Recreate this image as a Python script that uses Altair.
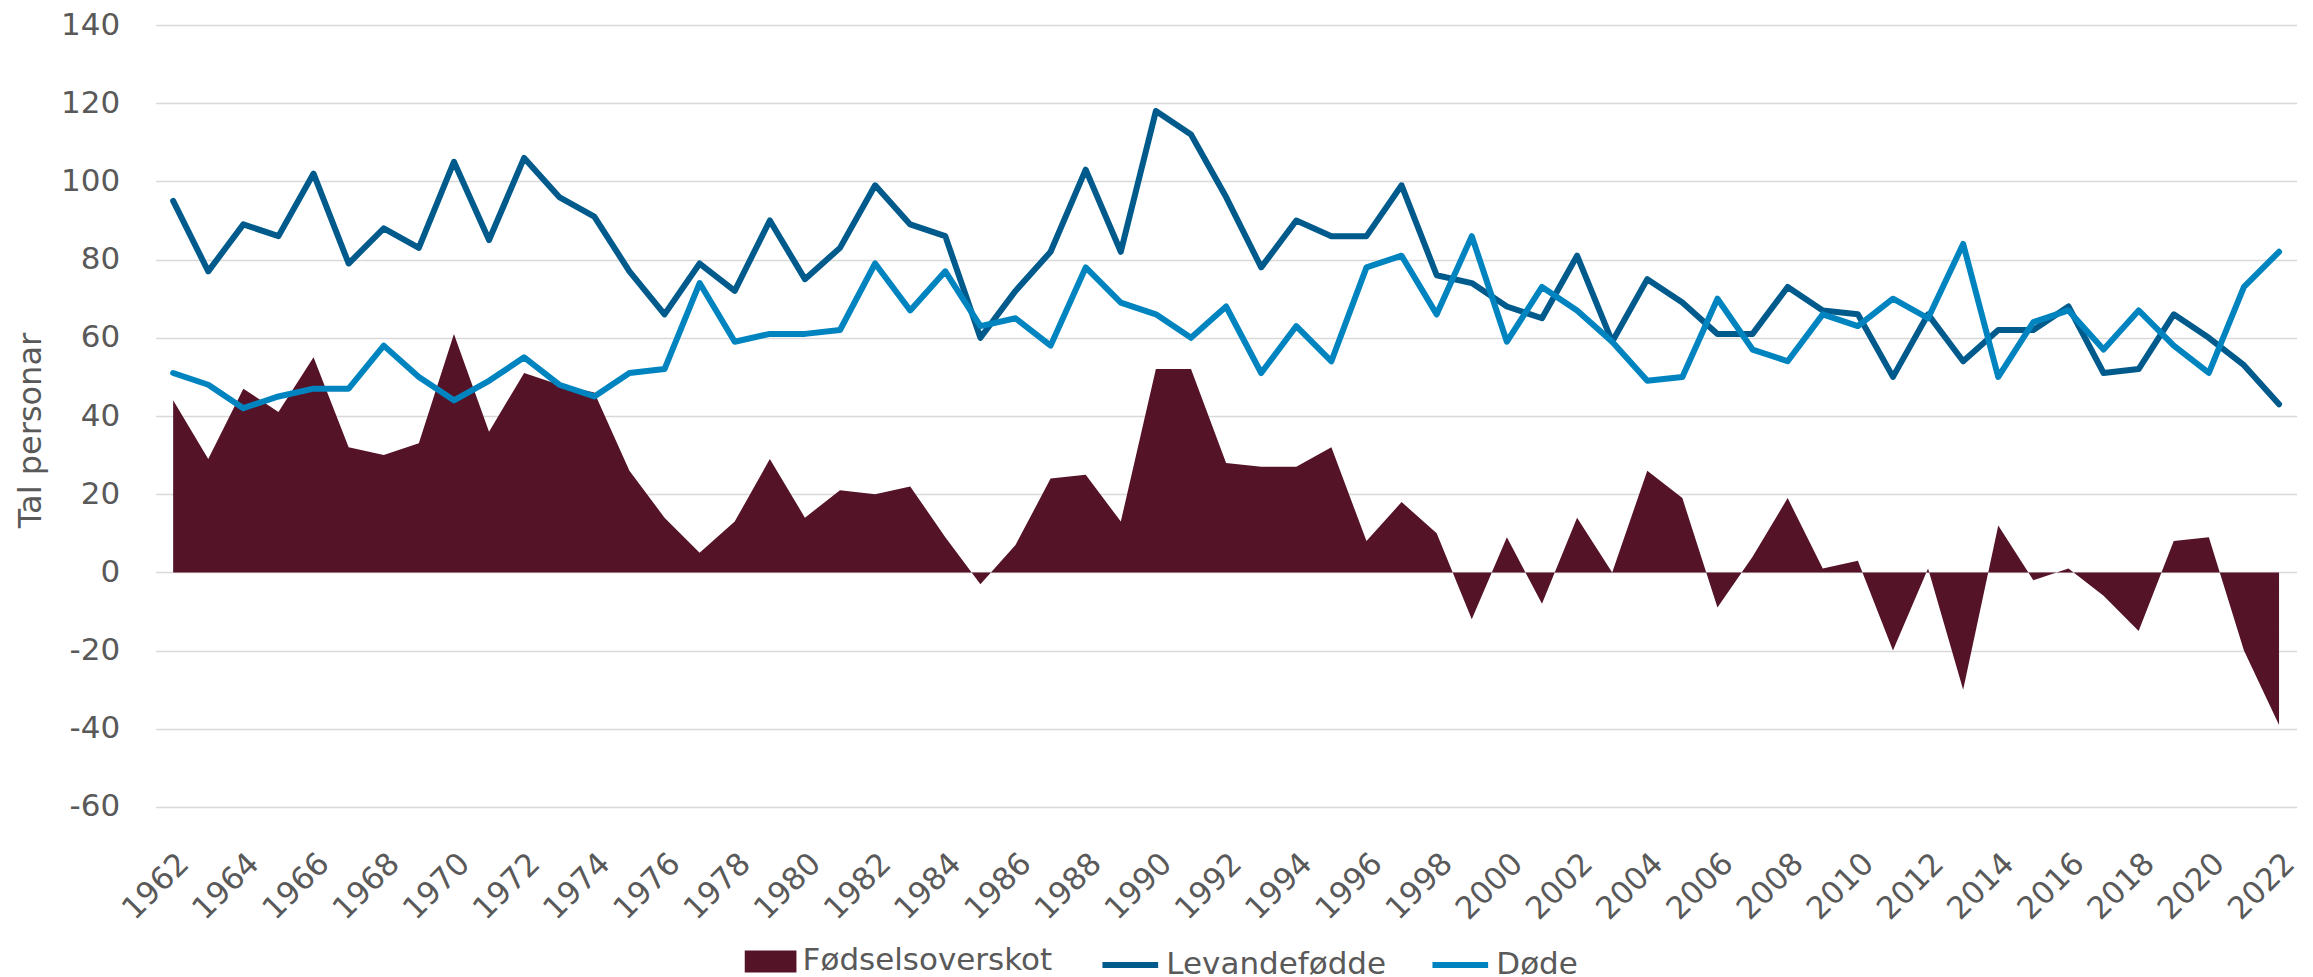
import altair as alt
import pandas as pd

years = list(range(1962, 2023))

levandefodde = [95, 77, 89, 86, 102, 79, 88, 83, 105, 85,
                106, 96, 91, 77, 66, 79, 72, 90, 75, 83,
                99, 89, 86, 60, 72, 82, 103, 82, 118, 112,
                96, 78, 90, 86, 86, 99, 76, 74, 68, 65,
                81, 59, 75, 69, 61, 61, 73, 67, 66, 50,
                66, 54, 62, 62, 68, 51, 52, 66, 60, 53,
                43]

dode = [51, 48, 42, 45, 47, 47, 58, 50, 44, 49,
        55, 48, 45, 51, 52, 74, 59, 61, 61, 62,
        79, 67, 77, 63, 65, 58, 78, 69, 66, 60,
        68, 51, 63, 54, 78, 81, 66, 86, 59, 73,
        67, 59, 49, 50, 70, 57, 54, 66, 63, 70,
        65, 84, 50, 64, 67, 57, 67, 58, 51, 73,
        82]

fodselsoverskot = [44, 29, 47, 41, 55, 32, 30, 33, 61, 36,
                   51, 48, 46, 26, 14, 5, 13, 29, 14, 21,
                   20, 22, 9, -3, 7, 24, 25, 13, 52, 52,
                   28, 27, 27, 32, 8, 18, 10, -12, 9, -8,
                   14, 0, 26, 19, -9, 4, 19, 1, 3, -20,
                   1, -30, 12, -2, 1, -6, -15, 8, 9, -20,
                   -39]

y_ticks = [-60, -40, -20, 0, 20, 40, 60, 80, 100, 120, 140]
x_ticks = list(range(1962, 2023, 2))

area_name = "Fødselsoverskot"
line_names = ["Levandefødde", "Døde"]

maroon = "#541327"
dark_blue = "#005b8c"
light_blue = "#0084c0"
text_col = "#595959"
grid_col = "#d9d9d9"
FONT = "DejaVu Sans"

area_df = pd.DataFrame({"year": years, "value": fodselsoverskot, "s": area_name})
line_df = pd.concat([
    pd.DataFrame({"year": years, "value": levandefodde, "series": line_names[0], "o": 0}),
    pd.DataFrame({"year": years, "value": dode, "series": line_names[1], "o": 1}),
], ignore_index=True)

x_enc = alt.X(
    "year:Q",
    scale=alt.Scale(domain=[1961.5, 2022.5], nice=False, zero=False),
    axis=alt.Axis(
        values=x_ticks, format="d", title=None, grid=False, domain=False,
        ticks=False, tickSize=0, labelAngle=-45, labelAlign="right",
        labelBaseline="top", labelPadding=41, labelFlush=False,
        labelOverlap=False,
    ),
)
y_enc = alt.Y(
    "value:Q",
    scale=alt.Scale(domain=[-60, 140], nice=False),
    axis=alt.Axis(
        values=y_ticks, title="Tal personar", grid=True, gridColor=grid_col,
        gridWidth=1.6, domain=False, ticks=False, tickSize=0, labelPadding=36,
        labelExpr="datum.value < 0 ? '-' + abs(datum.value) : '' + datum.value",
        titleAngle=270, titleX=-115, titleY=405, titleAlign="center",
        titleBaseline="alphabetic", titleFontSize=32, titleFontWeight="normal",
    ),
)

area = alt.Chart(area_df).mark_area(opacity=1, interpolate="linear").encode(
    x=x_enc,
    y=y_enc,
    y2=alt.datum(0),
    fill=alt.Fill(
        "s:N",
        scale=alt.Scale(domain=[area_name], range=[maroon]),
        legend=alt.Legend(
            orient="none", legendX=589, legendY=910.5, title=None,
            symbolType="M-1,-0.425H1V0.425H-1Z", symbolSize=2673,
            symbolStrokeWidth=0, symbolOpacity=1, labelOffset=6,
            labelLimit=600,
        ),
    ),
)

lines = alt.Chart(line_df).mark_line(
    strokeWidth=6, strokeCap="round", strokeJoin="round"
).encode(
    x=x_enc,
    y=y_enc,
    stroke=alt.Stroke(
        "series:N",
        scale=alt.Scale(domain=line_names, range=[dark_blue, light_blue]),
        legend=alt.Legend(
            orient="none", legendX=943.7, legendY=909, title=None,
            direction="horizontal", symbolType="stroke", symbolSize=3100,
            symbolStrokeWidth=6, columnPadding=34, labelOffset=5,
            labelLimit=600,
        ),
    ),
    order="o:Q",
)

chart = alt.layer(area, lines).properties(
    width=2141,
    height=782,
    padding={"left": 147.6, "top": 17, "right": 5, "bottom": 175},
    autosize=alt.AutoSizeParams(type="none"),
    background="white",
).configure_view(stroke=None).configure_axis(
    labelFont=FONT, labelFontSize=31, labelColor=text_col,
    titleFont=FONT, titleColor=text_col,
).configure_legend(
    labelFont=FONT, labelFontSize=31, labelColor=text_col, padding=0,
)

chart.save("out.html", embed_options={"renderer": "svg", "actions": False})
